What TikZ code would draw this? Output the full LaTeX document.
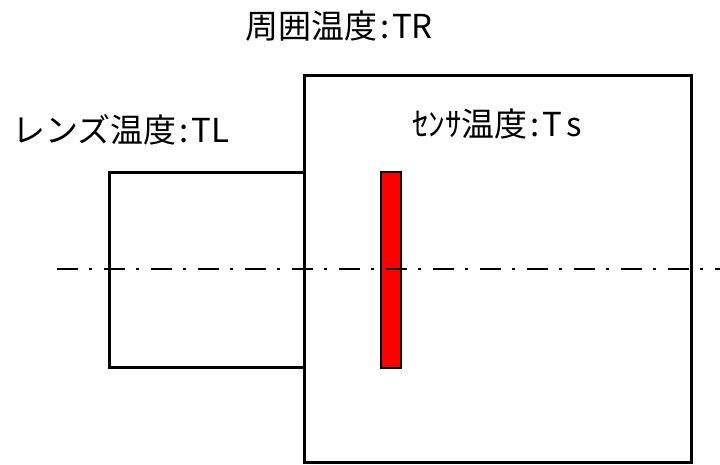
\documentclass[tikz,border=0pt]{standalone}
\usepackage{fontspec}
\setmainfont{Noto Sans CJK JP}
\newcommand{\colonsp}{\hspace{3pt}:\hspace{3pt}}
\begin{document}
\begin{tikzpicture}[x=1pt,y=-1pt,
  lbl/.style={inner sep=0pt,font=\fontsize{33}{38}\selectfont},
  wall/.style={line width=3pt},
  axisline/.style={line width=2pt,dash pattern=on 21pt off 11pt on 3pt off 12pt}]
\useasboundingbox (0,0) rectangle (720,464);
\draw[wall] (304,75) rectangle (691,462);
\draw[wall] (304,172) -- (109,172) -- (109,367) -- (304,367);
\node[draw=black,line width=1.5pt,fill=red,minimum width=20pt,minimum height=196pt,inner sep=0pt] (sensor) at (391,270) {};
\draw[axisline] (57,269) -- (720,269);
\node[lbl] (tr) at (339,26) {周囲温度\colonsp TR};
\node[lbl] (tl) at (121,130) {レンズ温度\colonsp TL};
\node[lbl] (ts) at (497,124) {ｾﾝｻ温度\colonsp T\hspace{4pt}s};
\end{tikzpicture}
\end{document}
